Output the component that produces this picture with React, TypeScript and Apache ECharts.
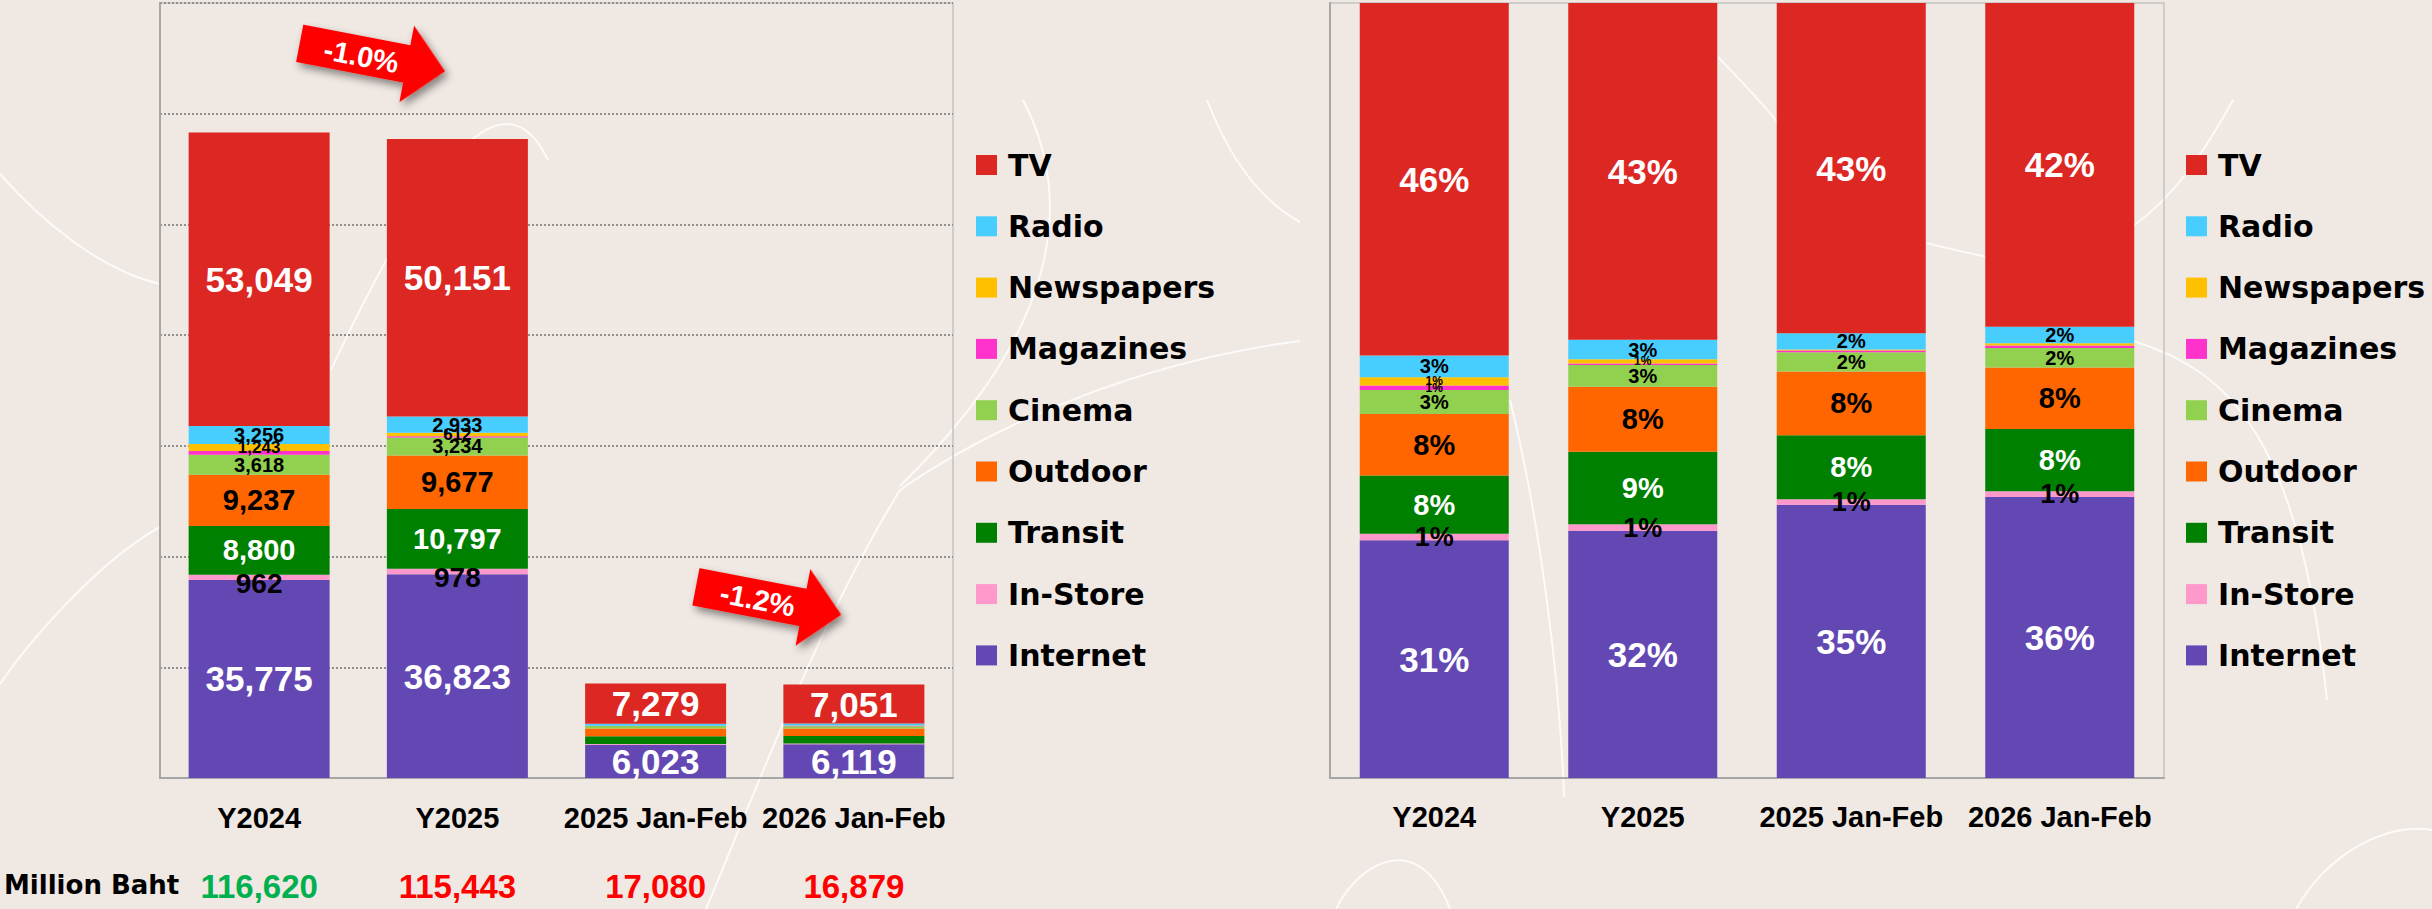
import React, { useEffect, useRef } from 'react';
import * as echarts from 'echarts';

// ---------- data (Million Baht) ----------
const categories = ['Y2024', 'Y2025', '2025 Jan-Feb', '2026 Jan-Feb'];
const tv = [53049, 50151, 7279, 7051];
const radio = [3256, 2933, 360, 360];
const newspapers = [1243, 612, 20, 50];
const magazines = [680, 238, 37, 55];
const cinema = [3618, 3234, 428, 420];
const outdoor = [9237, 9677, 1400, 1340];
const transit = [8800, 10797, 1413, 1360];
const inStore = [962, 978, 120, 124];
const internet = [35775, 36823, 6023, 6119];
const totals = [116620, 115443, 17080, 16879];

// share labels as printed on the 100% chart (null = no label)
const tvPct = [46, 43, 43, 42];
const radioPct = [3, 3, 2, 2];
const newspapersPct = [1, 1, null, null];
const magazinesPct = [1, null, null, null];
const cinemaPct = [3, 3, 2, 2];
const outdoorPct = [8, 8, 8, 8];
const transitPct = [8, 9, 8, 8];
const inStorePct = [1, 1, 1, 1];
const internetPct = [31, 32, 35, 36];

const legendOrder = ['TV', 'Radio', 'Newspapers', 'Magazines', 'Cinema', 'Outdoor', 'Transit', 'In-Store', 'Internet'];

const ARIAL = '"Liberation Sans", Arial, Helvetica, sans-serif';
const LEGEND_FONT = '"DejaVu Sans", Verdana, sans-serif';

const fmt = (n: number) => n.toLocaleString('en-US');

type Spec = {
  name: string;
  values: number[];
  pct: (number | null)[];
  color: string;
  text: string;
  size: number;
  pctSize: number;
  absOffset?: number;
  noAbsLabel?: boolean;
};

const specs: Spec[] = [
  { name: 'Internet', values: internet, pct: internetPct, color: '#6348B4', text: '#ffffff', size: 35, pctSize: 35 },
  { name: 'In-Store', values: inStore, pct: inStorePct, color: '#FF99CC', text: '#000000', size: 28, pctSize: 27, absOffset: 6 },
  { name: 'Transit', values: transit, pct: transitPct, color: '#008000', text: '#ffffff', size: 29, pctSize: 29 },
  { name: 'Outdoor', values: outdoor, pct: outdoorPct, color: '#FF6600', text: '#000000', size: 29, pctSize: 29 },
  { name: 'Cinema', values: cinema, pct: cinemaPct, color: '#92D050', text: '#000000', size: 20, pctSize: 20 },
  { name: 'Magazines', values: magazines, pct: magazinesPct, color: '#FF33CC', text: '#000000', size: 17, pctSize: 12, noAbsLabel: true },
  { name: 'Newspapers', values: newspapers, pct: newspapersPct, color: '#FFC000', text: '#000000', size: 17, pctSize: 12 },
  { name: 'Radio', values: radio, pct: radioPct, color: '#47CEFF', text: '#000000', size: 20, pctSize: 20 },
  { name: 'TV', values: tv, pct: tvPct, color: '#DC2723', text: '#ffffff', size: 35, pctSize: 35 },
];

export default function App() {
  const ref = useRef<HTMLDivElement>(null);

  useEffect(() => {
    document.body.style.margin = '0';
    const chart = echarts.init(ref.current!, null, { renderer: 'svg' });

    const absSeries = specs.map((s) => ({
      name: s.name,
      type: 'bar',
      stack: 'abs',
      xAxisIndex: 0,
      yAxisIndex: 0,
      barWidth: 141,
      data: s.values,
      itemStyle: { color: s.color },
      label: {
        show: true,
        position: 'inside',
        offset: [0, s.absOffset || 0],
        color: s.text,
        fontSize: s.size,
        fontWeight: 'bold',
        fontFamily: ARIAL,
        formatter: (p: any) => {
          if (s.noAbsLabel) return '';
          const big = s.name === 'TV' || s.name === 'Internet';
          if (p.dataIndex >= 2 && !big) return '';
          return fmt(p.value);
        },
      },
    }));

    const pctSeries = specs.map((s) => ({
      name: s.name,
      type: 'bar',
      stack: 'pct',
      xAxisIndex: 1,
      yAxisIndex: 1,
      barWidth: 149,
      data: s.values.map((v, i) => (v / totals[i]) * 100),
      itemStyle: { color: s.color },
      label: {
        show: true,
        position: 'inside',
        color: s.text,
        fontSize: s.pctSize,
        fontWeight: 'bold',
        fontFamily: ARIAL,
        formatter: (p: any) => {
          const v = s.pct[p.dataIndex];
          return v == null ? '' : v + '%';
        },
      },
    }));

    const legendBase = {
      data: legendOrder,
      orient: 'vertical',
      top: 145,
      itemWidth: 21,
      itemHeight: 20,
      itemGap: 31.3,
      icon: 'rect',
      selectedMode: false,
      textStyle: {
        fontFamily: LEGEND_FONT,
        fontWeight: 'bold',
        fontSize: 30,
        lineHeight: 30,
        color: '#000',
        padding: [0, 0, 0, 6],
      },
    };

    const change1 = ((totals[1] / totals[0] - 1) * 100).toFixed(1) + '%';
    const change2 = ((totals[3] / totals[2] - 1) * 100).toFixed(1) + '%';

    const arrow = (x: number, y: number, label: string) => ({
      type: 'group',
      x,
      y,
      rotation: -0.19,
      z: 10,
      children: [
        {
          type: 'polygon',
          shape: { points: [[0, -19], [109, -19], [109, -39], [148, 0], [109, 39], [109, 19], [0, 19]] },
          style: {
            fill: '#FF0000',
            shadowBlur: 8,
            shadowColor: 'rgba(0,0,0,0.45)',
            shadowOffsetX: 4,
            shadowOffsetY: 4,
          },
        },
        {
          type: 'text',
          x: 63,
          y: 1,
          style: {
            text: label,
            fill: '#ffffff',
            fontSize: 29,
            fontWeight: 'bold',
            fontFamily: ARIAL,
            align: 'center',
            verticalAlign: 'middle',
          },
        },
      ],
    });

    const curve = (x1: number, y1: number, cpx1: number, cpy1: number, cpx2: number, cpy2: number, x2: number, y2: number) => ({
      type: 'bezierCurve',
      silent: true,
      z: -1,
      shape: { x1, y1, cpx1, cpy1, cpx2, cpy2, x2, y2 },
      style: { stroke: 'rgba(255,255,255,0.8)', lineWidth: 2, fill: null },
    });

    const option: any = {
      animation: false,
      backgroundColor: '#F0E8E3',
      grid: [
        { left: 160, top: 3, width: 793, height: 775, show: true, borderColor: '#C4C4C4', borderWidth: 1.5, backgroundColor: 'transparent' },
        { left: 1330, top: 3, width: 834, height: 775, show: true, borderColor: '#C4C4C4', borderWidth: 1.5, backgroundColor: 'transparent' },
      ],
      xAxis: [
        {
          type: 'category',
          gridIndex: 0,
          data: categories,
          axisTick: { show: false },
          axisLine: { lineStyle: { color: '#A6A6A6', width: 2 } },
          axisLabel: {
            interval: 0,
            margin: 5,
            formatter: (v: string, i: number) => `{c|${v}}\n{${i === 0 ? 'g' : 'r'}|${fmt(totals[i])}}`,
            rich: {
              c: { fontSize: 29, fontWeight: 'bold', fontFamily: ARIAL, color: '#000', lineHeight: 69 },
              g: { fontSize: 33, fontWeight: 'bold', fontFamily: ARIAL, color: '#00B050', lineHeight: 69 },
              r: { fontSize: 33, fontWeight: 'bold', fontFamily: ARIAL, color: '#FF0000', lineHeight: 69 },
            },
          },
        },
        {
          type: 'category',
          gridIndex: 1,
          data: categories,
          axisTick: { show: false },
          axisLine: { lineStyle: { color: '#A6A6A6', width: 2 } },
          axisLabel: {
            interval: 0,
            margin: 24,
            fontSize: 29,
            fontWeight: 'bold',
            fontFamily: ARIAL,
            color: '#000',
          },
        },
      ],
      yAxis: [
        {
          type: 'value',
          gridIndex: 0,
          min: 0,
          max: 140000,
          interval: 20000,
          axisLabel: { show: false },
          axisTick: { show: false },
          axisLine: { show: true, lineStyle: { color: '#A6A6A6', width: 2 } },
          splitLine: { show: true, lineStyle: { color: '#8F8F8F', width: 2, type: [2, 2] } },
        },
        {
          type: 'value',
          gridIndex: 1,
          min: 0,
          max: 100,
          axisLabel: { show: false },
          axisTick: { show: false },
          axisLine: { show: true, lineStyle: { color: '#A6A6A6', width: 2 } },
          splitLine: { show: false },
        },
      ],
      legend: [
        { ...legendBase, left: 971 },
        { ...legendBase, left: 2181 },
      ],
      series: [...absSeries, ...pctSeries],
      graphic: [
        curve(0, 174, 40, 220, 100, 270, 160, 284),
        curve(0, 684, 30, 640, 100, 560, 160, 527),
        curve(331, 370, 420, 180, 500, 60, 548, 160),
        curve(1023, 100, 1075, 200, 1060, 330, 900, 486),
        curve(1207, 100, 1230, 160, 1260, 200, 1300, 222),
        curve(1300, 341, 1150, 360, 1000, 420, 900, 490),
        curve(900, 490, 820, 620, 760, 780, 706, 909),
        curve(1510, 400, 1540, 520, 1560, 680, 1564, 797),
        curve(1718, 57, 1740, 80, 1760, 100, 1778, 123),
        curve(1927, 243, 1945, 248, 1965, 252, 1987, 257),
        curve(2233, 100, 2200, 160, 2170, 200, 2133, 226),
        curve(2133, 341, 2230, 370, 2300, 440, 2327, 700),
        curve(1336, 909, 1360, 860, 1420, 830, 1450, 909),
        curve(2296, 909, 2330, 850, 2390, 822, 2432, 830),
        {
          type: 'text',
          x: 4,
          y: 885,
          style: {
            text: 'Million Baht',
            fontSize: 26,
            fontWeight: 'bold',
            fontFamily: LEGEND_FONT,
            fill: '#000',
            align: 'left',
            verticalAlign: 'middle',
          },
        },
        arrow(299.7, 43.3, change1),
        arrow(695.9, 586.8, change2),
      ],
    };

    chart.setOption(option);
    return () => chart.dispose();
  }, []);

  return <div ref={ref} style={{ width: 2432, height: 909, background: '#F0E8E3' }} />;
}
